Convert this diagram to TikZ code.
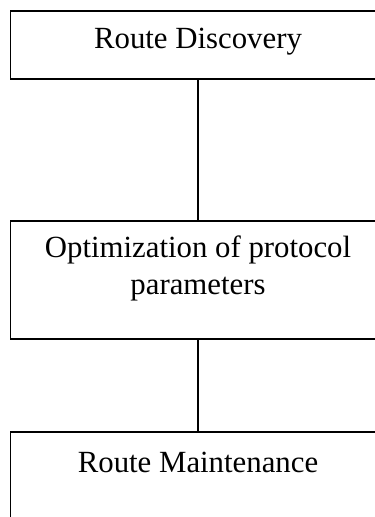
\documentclass[tikz,border=0pt]{standalone}
\usepackage{fontspec}
\setmainfont{Liberation Serif}
\begin{document}
\begin{tikzpicture}[x=1pt,y=-1pt,
  stagebox/.style={draw, line width=1.4pt, anchor=north west, minimum width=375pt, inner sep=0pt, outer sep=0pt},
  stagetext/.style={font=\fontsize{30.8}{36.5}\selectfont, align=center, inner sep=0pt},
  link/.style={line width=1.4pt}]
  \useasboundingbox (0,0) rectangle (375,517);
  \clip (0,0) rectangle (375,517);
  % stage boxes
  \node[stagebox, minimum height=68pt]  (disc) at (10.5,11)  {};
  \node[stagebox, minimum height=118pt] (opt)  at (10.5,221) {};
  \node[stagebox, minimum height=120pt] (mnt)  at (10.5,432) {};
  % stage captions
  \node[stagetext] (discT) at (198,42)    {Route Discovery};
  \node[stagetext] (optT)  at (198,268.5) {Optimization of protocol\\parameters};
  \node[stagetext] (mntT)  at (198,462)   {Route Maintenance};
  % links between stages
  \draw[link] (disc.south) -- (opt.north);
  \draw[link] (opt.south) -- (mnt.north);
\end{tikzpicture}
\end{document}
